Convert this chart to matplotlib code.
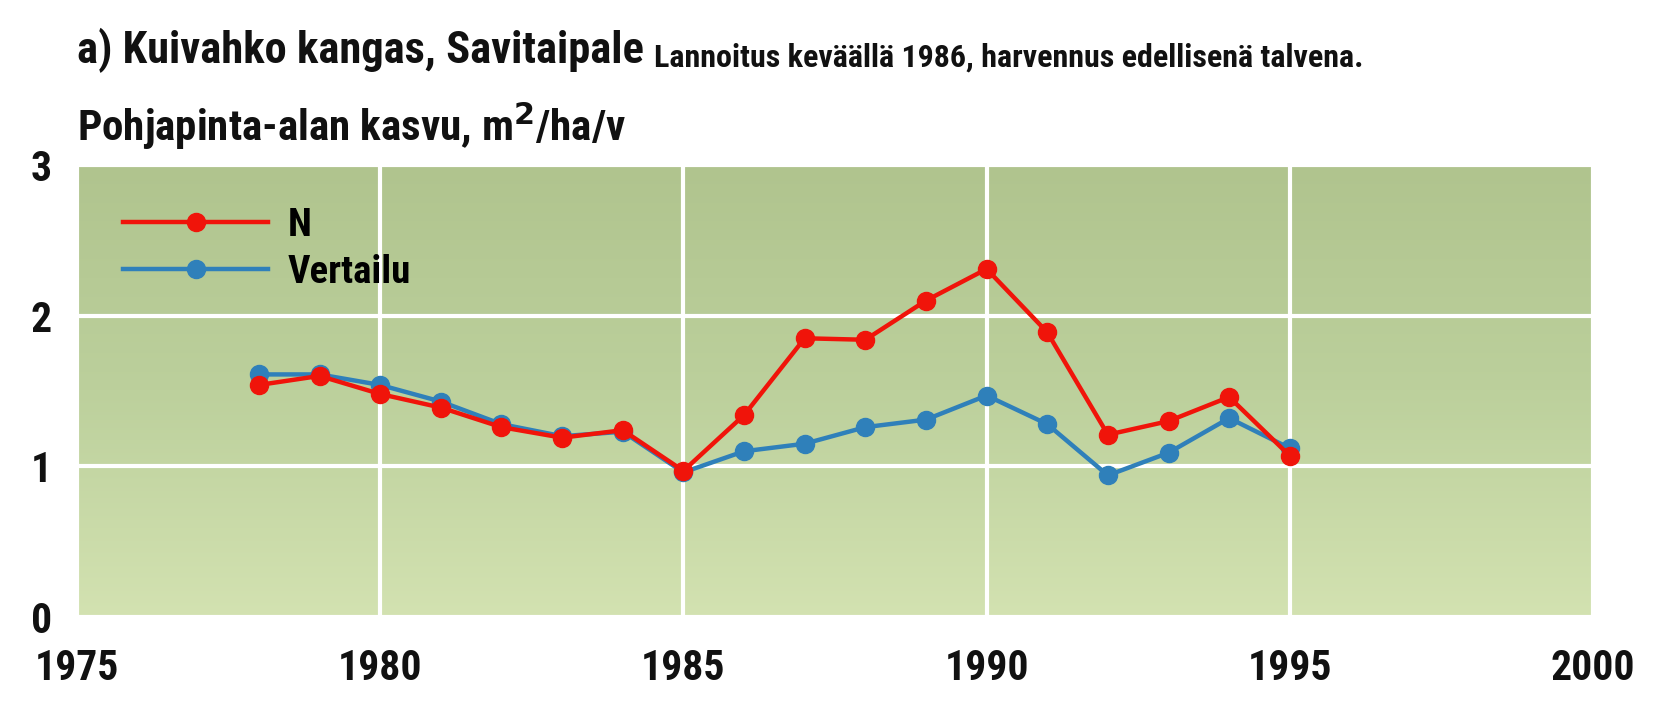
import matplotlib
matplotlib.use('Agg')
import matplotlib.pyplot as plt
import numpy as np
from matplotlib.legend_handler import HandlerLine2D
from matplotlib.colors import LinearSegmentedColormap

# Data
years = [1978, 1979, 1980, 1981, 1982, 1983, 1984, 1985, 1986,
         1987, 1988, 1989, 1990, 1991, 1992, 1993, 1994, 1995]
n_growth = [1.54, 1.60, 1.48, 1.39, 1.26, 1.19, 1.24, 0.97, 1.34,
            1.85, 1.84, 2.10, 2.31, 1.89, 1.21, 1.30, 1.46, 1.07]
ref_growth = [1.61, 1.61, 1.54, 1.43, 1.28, 1.20, 1.23, 0.96, 1.10,
              1.15, 1.26, 1.31, 1.47, 1.28, 0.94, 1.09, 1.32, 1.12]
x_ticks = [1975, 1980, 1985, 1990, 1995, 2000]
y_ticks = [0, 1, 2, 3]

# narrow bold font like the original, with fallbacks
FONT = ['Roboto Condensed', 'PT Sans Narrow', 'Liberation Sans', 'DejaVu Sans']
plt.rcParams['font.family'] = FONT
plt.rcParams['font.weight'] = 'bold'

RED = '#f0140a'
BLUE = '#2f80ba'
INK = '#111111'


# legend handle: line runs the full length, markers in the middle and at the end
class TwoDotHandler(HandlerLine2D):
    def get_xdata(self, legend, xdescent, ydescent, width, height, fontsize):
        xdata = np.array([-xdescent, -xdescent + width])
        xmark = np.array([-xdescent + width * 0.46, -xdescent + width])
        return xdata, xmark


fig = plt.figure(figsize=(16.73, 7.21), dpi=100)
ax = fig.add_axes([77 / 1673, 1 - 617 / 721, (1593 - 77) / 1673, (617 - 165) / 721])

# background gradient
cmap = LinearSegmentedColormap.from_list('bg', ['#d3e2b1', '#bcd09c', '#b0c48e'])
grad = np.linspace(0, 1, 256).reshape(-1, 1)
ax.imshow(grad, cmap=cmap, aspect='auto', origin='lower',
          extent=[0, 1, 0, 1], transform=ax.transAxes, zorder=0)

ax.set_xlim(1975, 2000)
ax.set_ylim(0, 3)
ax.set_xticks(x_ticks)
ax.set_yticks(y_ticks)
ax.grid(True, color='white', linewidth=3)
ax.set_axisbelow(True)
for s in ax.spines.values():
    s.set_visible(False)
ax.tick_params(length=0, labelsize=30, colors=INK)
ax.tick_params(axis='x', pad=22)
ax.tick_params(axis='y', pad=18)

l_ref, = ax.plot(years, ref_growth, color=BLUE, lw=3.2, marker='o', ms=13,
                 label='Vertailu', zorder=3)
l_n, = ax.plot(years, n_growth, color=RED, lw=3.2, marker='o', ms=13,
               label='N', zorder=4)

ax.legend(handles=[l_n, l_ref], loc='upper left', bbox_to_anchor=(0.007, 0.985),
          frameon=False, handlelength=3.75, handletextpad=0.5,
          labelspacing=0.25,
          handler_map={l_n: TwoDotHandler(), l_ref: TwoDotHandler()},
          prop={'family': FONT, 'weight': 'bold', 'size': 28})

title = fig.text(77 / 1673, 1 - 63 / 721, 'a) Kuivahko kangas, Savitaipale',
                 fontsize=32, fontweight='bold', ha='left', va='baseline', color=INK)
ax.annotate('Lannoitus keväällä 1986, harvennus edellisenä talvena.',
            xy=(1, 0), xycoords=title, xytext=(7, 0), textcoords='offset points',
            fontsize=23, fontweight='bold', ha='left', va='bottom', color=INK,
            annotation_clip=False)
fig.text(77 / 1673, 1 - 141 / 721, 'Pohjapinta-alan kasvu, m$^2$/ha/v',
         fontsize=31, fontweight='bold', ha='left', va='baseline', color=INK)

fig.savefig('out.png', dpi=100)
